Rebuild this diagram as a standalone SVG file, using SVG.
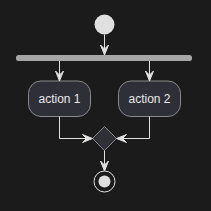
<svg xmlns="http://www.w3.org/2000/svg" width="211" height="211" viewBox="0 0 211 211">
<style>
.line{stroke:#e0e0e0;stroke-width:1;fill:none}
.head{fill:#e0e0e0;stroke:#e0e0e0;stroke-width:1}
.act{fill:#2f2f37;stroke:#8a8a8a;stroke-width:1}
.lbl{font-family:"Liberation Sans",Arial,sans-serif;font-size:12px;fill:#e8e8e8;text-anchor:middle}
</style>
<rect width="211" height="211" fill="#1b1b1b"/>
<g id="start"><circle cx="104.5" cy="24.5" r="10" fill="#e0e0e0"/></g>
<g id="fork"><rect x="16" y="55" width="176" height="6" rx="2.5" fill="#a6a6a6"/></g>
<g id="action1"><rect class="act" x="28.5" y="81" width="62" height="35.5" rx="12.5"/><text class="lbl" x="59.5" y="103">action 1</text></g>
<g id="action2"><rect class="act" x="118.5" y="81" width="62" height="35.5" rx="12.5"/><text class="lbl" x="149.5" y="103">action 2</text></g>
<g id="merge"><polygon points="104.5,126.5 116.5,138.5 104.5,150.5 92.5,138.5" fill="#2f2f37" stroke="#8a8a8a" stroke-width="1"/></g>
<g id="end"><circle cx="104.5" cy="181.5" r="10.5" fill="none" stroke="#e0e0e0" stroke-width="1"/><circle cx="104.5" cy="181.5" r="6" fill="#e0e0e0"/></g>
<g id="connectors">
<line class="line" x1="104.5" y1="34.5" x2="104.5" y2="54"/>
<path class="head" d="M100.5,45 L104.5,55 L108.5,45 L104.5,49 Z"/>
<line class="line" x1="59.5" y1="61" x2="59.5" y2="80"/>
<path class="head" d="M55.5,71 L59.5,81 L63.5,71 L59.5,75 Z"/>
<line class="line" x1="149.5" y1="61" x2="149.5" y2="80"/>
<path class="head" d="M145.5,71 L149.5,81 L153.5,71 L149.5,75 Z"/>
<polyline class="line" points="59.5,116.5 59.5,138.5 91.5,138.5"/>
<path class="head" d="M82.5,134.5 L92.5,138.5 L82.5,142.5 L86.5,138.5 Z"/>
<polyline class="line" points="149.5,116.5 149.5,138.5 117.5,138.5"/>
<path class="head" d="M126.5,134.5 L116.5,138.5 L126.5,142.5 L122.5,138.5 Z"/>
<line class="line" x1="104.5" y1="150.5" x2="104.5" y2="170"/>
<path class="head" d="M100.5,161 L104.5,171 L108.5,161 L104.5,165 Z"/>
</g>
</svg>
